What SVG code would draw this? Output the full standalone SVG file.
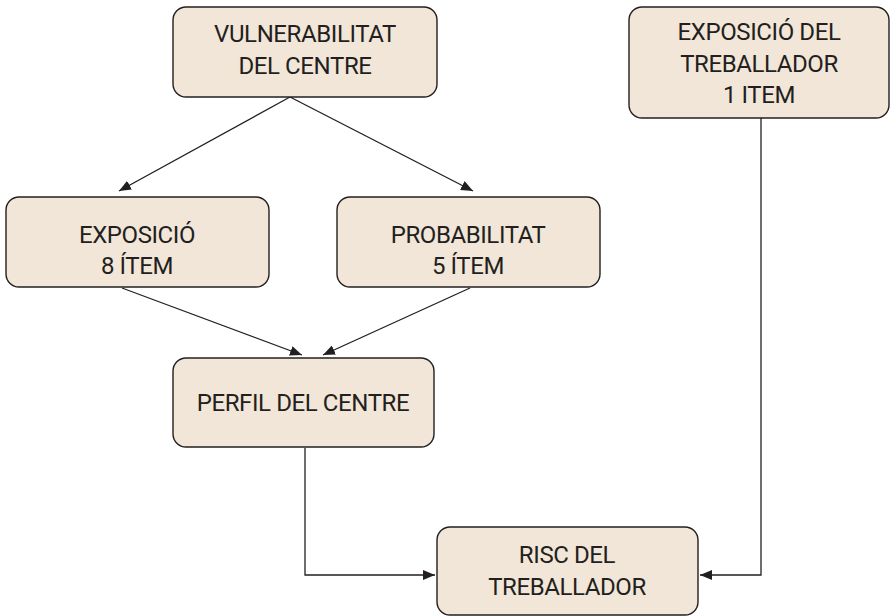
<svg xmlns="http://www.w3.org/2000/svg" width="890" height="616" viewBox="0 0 890 616">
<style>
.box{fill:#f1e6d8;stroke:#231f20;stroke-width:1.4}
.t{font-family:Roboto,"Liberation Sans",sans-serif;font-size:24px;letter-spacing:-0.4px;fill:#231f20;text-anchor:middle}
.c{fill:none;stroke:#231f20;stroke-width:1.3}
</style>
<defs>
<marker id="a" viewBox="0 0 12 10" refX="12" refY="5" markerWidth="12" markerHeight="10" markerUnits="userSpaceOnUse" orient="auto">
<path d="M0,0 L12,5 L0,10 z" fill="#231f20"/>
</marker>
</defs>
<rect width="890" height="616" fill="#fff"/>
<g id="connectors">
<line class="c" x1="290" y1="97" x2="119" y2="191" marker-end="url(#a)"/>
<line class="c" x1="290" y1="97" x2="473" y2="191" marker-end="url(#a)"/>
<line class="c" x1="122" y1="288" x2="302" y2="355" marker-end="url(#a)"/>
<line class="c" x1="470" y1="288" x2="323" y2="355" marker-end="url(#a)"/>
<polyline class="c" points="305,448 305,575 435,575" marker-end="url(#a)"/>
<polyline class="c" points="761,118 761,575 700,575" marker-end="url(#a)"/>
</g>
<g id="vulnerabilitat">
<rect class="box" x="173" y="7" width="264" height="90" rx="13"/>
<text class="t" x="305" y="42">VULNERABILITAT</text>
<text class="t" x="305" y="74">DEL CENTRE</text>
</g>
<g id="exposicio">
<rect class="box" x="6" y="197" width="263" height="90" rx="13"/>
<text class="t" x="137" y="243">EXPOSICIÓ</text>
<text class="t" x="137" y="274">8 ÍTEM</text>
</g>
<g id="probabilitat">
<rect class="box" x="337" y="197" width="263" height="90" rx="13"/>
<text class="t" x="468" y="243">PROBABILITAT</text>
<text class="t" x="468" y="274">5 ÍTEM</text>
</g>
<g id="perfil">
<rect class="box" x="173" y="358" width="261" height="89" rx="13"/>
<text class="t" x="303" y="411">PERFIL DEL CENTRE</text>
</g>
<g id="exposicio-treballador">
<rect class="box" x="629" y="7" width="260" height="111" rx="13"/>
<text class="t" x="759" y="40">EXPOSICIÓ DEL</text>
<text class="t" x="759" y="72">TREBALLADOR</text>
<text class="t" x="759" y="103">1 ITEM</text>
</g>
<g id="risc">
<rect class="box" x="437" y="527" width="261" height="88" rx="13"/>
<text class="t" x="567" y="563">RISC DEL</text>
<text class="t" x="567" y="595">TREBALLADOR</text>
</g>
</svg>
